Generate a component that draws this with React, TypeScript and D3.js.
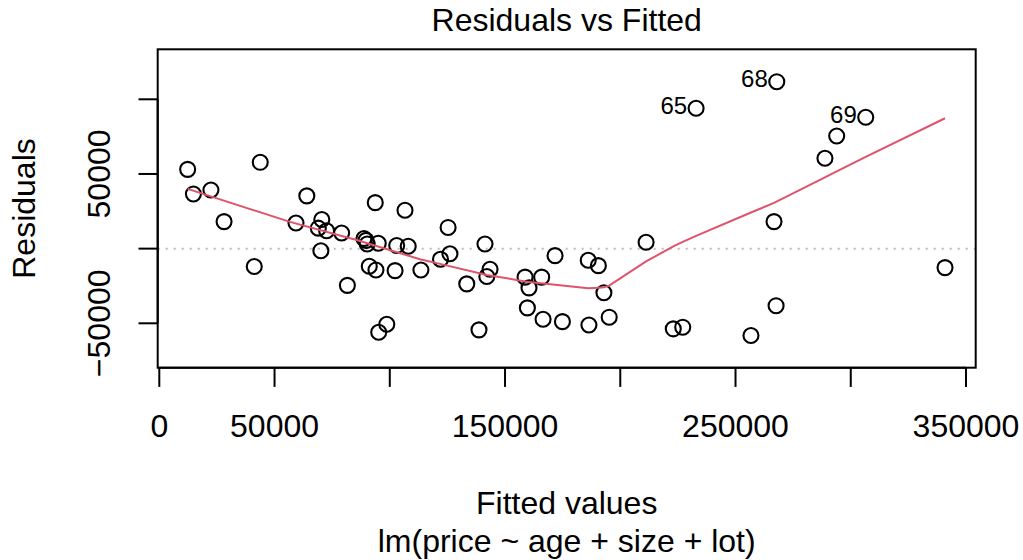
import React from "react";
import * as d3 from "d3";

// Fitted values (x) and residuals (y)
const fitted = [
  12300, 14800, 22400, 28100, 43800, 41200, 64000, 59300, 70500, 69000,
  72600, 70100, 79100, 81600, 93700, 88800, 89700, 90200, 95000, 91100,
  94000, 102300, 106600, 103000, 108000, 113500, 98700, 95200, 122000, 125300,
  126100, 133400, 138700, 141300, 143500, 142100, 158700, 160400, 165900, 159700,
  166500, 171700, 174900, 186100, 190500, 192900, 186400, 195200, 211200, 223000,
  227100, 232900, 267900, 306500, 293900, 288800, 266700, 340900, 267600, 256700,
];
const residuals = [
  53100, 36600, 39300, 18100, 57800, -12000, 35300, 17200, 19500, 13700,
  12000, -1400, 10500, -24600, 30800, 6800, 5500, 3100, 3600, -11800,
  -14300, -14700, 25700, 2100, 1600, -14300, -50600, -56000, -7100, 14200,
  -3400, -23600, -54400, 3100, -13800, -18700, -19100, -26300, -19100, -39700,
  -47300, -4700, -48900, -7800, -11400, -29500, -51100, -45900, 4300, -53700,
  -52600, 94000, 111800, 88000, 75400, 60500, 18100, -12700, -38200, -58200,
];
// Labelled observations: name and position in the arrays above
const idNames = ["65", "68", "69"];
const idIndex = [51, 52, 53];

// Smoother (lowess) curve
const smoothX = [
  12300, 56700, 85600, 113100, 121800, 142100, 159400, 186100, 190500, 192900,
  195200, 211200, 223000, 227100, 232900, 256700, 266700, 288800, 293900, 306500,
  340900,
];
const smoothY = [
  40000, 17900, 5800, -7100, -10200, -17600, -22100, -26600, -26200, -25800,
  -24800, -8600, 1500, 4500, 8500, 24200, 30600, 47700, 51700, 61400,
  87300,
];

const xTicks = [0, 50000, 100000, 150000, 200000, 250000, 300000, 350000];
const xTickLabels = ["0", "50000", "", "150000", "", "250000", "", "350000"];
const yTicks = [-50000, 0, 50000, 100000];
const yTickLabels = ["\u221250000", "", "50000", ""];

const title = "Residuals vs Fitted";
const xLabel = "Fitted values";
const yLabel = "Residuals";
const subLabel = "lm(price ~ age + size + lot)";

export default function App() {
  const W = 1023;
  const H = 560;
  const box = { left: 157.7, right: 975.7, top: 49.3, bottom: 367.7 };
  const font = "'Liberation Sans', Arial, Helvetica, sans-serif";
  const fs = 32;
  const tick = 19.2;

  const x = d3.scaleLinear().domain([0, 350000]).range([159.3, 966]);
  const y = d3.scaleLinear().domain([-50000, 100000]).range([323.3, 99.3]);

  const line = d3
    .line<number>()
    .x((d) => x(smoothX[d]))
    .y((d) => y(smoothY[d]));
  const smoothPath = line(smoothX.map((_, i) => i)) || "";

  const cx = (box.left + box.right) / 2;
  const cy = (box.top + box.bottom) / 2;

  return (
    <svg
      width={W}
      height={H}
      style={{ position: "fixed", left: 0, top: 0, background: "#fff" }}
      fontFamily={font}
    >
      <rect x={0} y={0} width={W} height={H} fill="#fff" />
      {/* zero reference line */}
      <line
        x1={box.left}
        x2={box.right}
        y1={y(0)}
        y2={y(0)}
        stroke="#bebebe"
        strokeWidth={2}
        strokeDasharray="2 6"
      />
      {/* points */}
      {fitted.map((f, i) => (
        <circle
          key={i}
          cx={x(f)}
          cy={y(residuals[i])}
          r={7.5}
          fill="none"
          stroke="#000"
          strokeWidth={2.1}
        />
      ))}
      {/* smoother */}
      <path d={smoothPath} fill="none" stroke="#DF536B" strokeWidth={2} />
      {/* id labels */}
      {idIndex.map((k, j) => (
        <text
          key={j}
          x={x(fitted[k]) - 9}
          y={y(residuals[k]) + 5.5}
          fontSize={24}
          textAnchor="end"
          fill="#000"
        >
          {idNames[j]}
        </text>
      ))}
      {/* box */}
      <rect
        x={box.left}
        y={box.top}
        width={box.right - box.left}
        height={box.bottom - box.top}
        fill="none"
        stroke="#000"
        strokeWidth={2}
      />
      {/* x axis */}
      <line
        x1={x(xTicks[0])}
        x2={x(xTicks[xTicks.length - 1])}
        y1={box.bottom}
        y2={box.bottom}
        stroke="#000"
        strokeWidth={2}
      />
      {xTicks.map((t, i) => (
        <g key={i}>
          <line
            x1={x(t)}
            x2={x(t)}
            y1={box.bottom}
            y2={box.bottom + tick}
            stroke="#000"
            strokeWidth={2}
          />
          {xTickLabels[i] && (
            <text x={x(t)} y={437.3} fontSize={fs} textAnchor="middle">
              {xTickLabels[i]}
            </text>
          )}
        </g>
      ))}
      {/* y axis */}
      <line
        x1={box.left}
        x2={box.left}
        y1={y(yTicks[0])}
        y2={y(yTicks[yTicks.length - 1])}
        stroke="#000"
        strokeWidth={2}
      />
      {yTicks.map((t, i) => (
        <g key={i}>
          <line
            x1={box.left - tick}
            x2={box.left}
            y1={y(t)}
            y2={y(t)}
            stroke="#000"
            strokeWidth={2}
          />
          {yTickLabels[i] && (
            <text
              transform={`translate(110,${y(t)}) rotate(-90)`}
              fontSize={fs}
              textAnchor="middle"
            >
              {yTickLabels[i]}
            </text>
          )}
        </g>
      ))}
      {/* titles */}
      <text x={cx} y={30.7} fontSize={fs} textAnchor="middle">
        {title}
      </text>
      <text x={cx} y={514} fontSize={fs} textAnchor="middle">
        {xLabel}
      </text>
      <text x={cx} y={552.3} fontSize={fs} textAnchor="middle">
        {subLabel}
      </text>
      <text
        transform={`translate(35,${cy}) rotate(-90)`}
        fontSize={fs}
        textAnchor="middle"
      >
        {yLabel}
      </text>
    </svg>
  );
}
